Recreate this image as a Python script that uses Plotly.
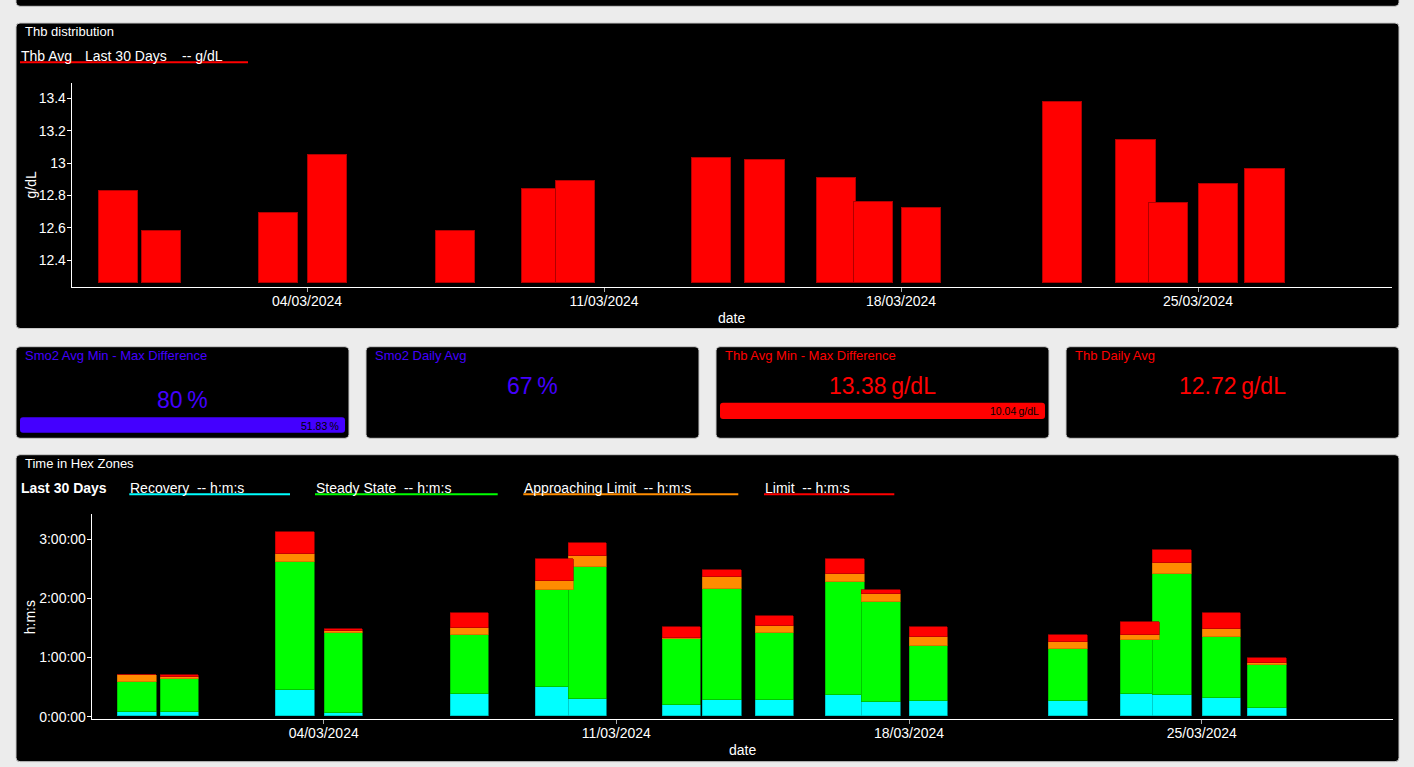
import plotly.graph_objects as go

W, H = 1414, 767
FONT = "Liberation Sans, Arial, Helvetica, sans-serif"

# ---------------- data ----------------
DATES = [
    "2024-02-28 13:06", "2024-02-29 13:18", "2024-03-03 07:28", "2024-03-04 11:33",
    "2024-03-07 11:51", "2024-03-09 12:39", "2024-03-10 07:34", "2024-03-12 13:35",
    "2024-03-13 12:48", "2024-03-14 18:52", "2024-03-16 11:12", "2024-03-17 08:07",
    "2024-03-18 11:17", "2024-03-21 19:12", "2024-03-23 12:43", "2024-03-24 07:03",
    "2024-03-25 11:27", "2024-03-26 13:39",
]
THB_AVG = [12.83, 12.58, 12.69, 13.05, 12.58, 12.84, 12.89, None, 13.03, 13.02,
           12.91, 12.76, 12.72, 13.38, 13.14, 12.75, 12.87, 12.96]

# time in zones, minutes
RECOVERY = [4.1, 4.5, 26.4, 3.0, 22.3, 30.1, 17.6, 11.2, 16.6, 16.6, 21.3, 14.5,
            15.2, 15.6, 22.3, 21.6, 18.6, 8.5]
STEADY = [30.8, 33.0, 130.2, 81.2, 60.6, 98.1, 133.9, 67.3, 112.6, 67.6, 115.0,
          101.2, 55.8, 52.7, 55.1, 122.8, 61.9, 43.6]
APPROACHING = [7.4, 2.1, 7.8, 2.7, 7.1, 9.1, 11.5, 1.3, 11.8, 7.1, 7.8, 8.4, 9.8,
               7.5, 4.8, 11.2, 8.1, 2.4]
LIMIT = [0.0, 2.0, 23.0, 2.0, 14.8, 22.7, 12.9, 10.8, 7.8, 10.8, 15.5, 4.4, 9.8,
         6.7, 13.8, 13.2, 16.6, 5.0]

ZONE_NAMES = ["Recovery", "Steady State", "Approaching Limit", "Limit"]
ZONE_COLORS = ["#00ffff", "#00ff00", "#ff8c00", "#ff0000"]
ZONE_LINES = ["#00b8b8", "#00b000", "#c86e00", "#b00000"]

THB_TICKS = [12.4, 12.6, 12.8, 13.0, 13.2, 13.4]
THB_TICKTEXT = ["12.4", "12.6", "12.8", "13", "13.2", "13.4"]
HMS_TICKVALS = [0, 60, 120, 180]
HMS_TICKTEXT = ["0:00:00", "1:00:00", "2:00:00", "3:00:00"]

CARDS = [
    ("Smo2 Avg Min - Max Difference", "80\u2009%", "51.83\u2009%", "#4400ff"),
    ("Smo2 Daily Avg", "67\u2009%", None, "#4400ff"),
    ("Thb Avg Min - Max Difference", "13.38\u2009g/dL", "10.04\u2009g/dL", "#ff0000"),
    ("Thb Daily Avg", "12.72\u2009g/dL", None, "#ff0000"),
]

X_RANGE = ["2024-02-27 10:51", "2024-03-29 13:36"]
THB_RANGE = [12.233, 13.495]
THB_BASE = 12.256
HMS_RANGE = [-2.64, 205.4]
BAR_WIDTH = 0.925 * 86400000


# ---------------- helpers ----------------
def X(px):
    return px / W


def Y(py):
    return 1 - py / H


def rrect(x0, y0, x1, y1, r, fill, line=None, lw=1):
    p = (f"M {X(x0 + r)},{Y(y0)} L {X(x1 - r)},{Y(y0)} Q {X(x1)},{Y(y0)} {X(x1)},{Y(y0 + r)} "
         f"L {X(x1)},{Y(y1 - r)} Q {X(x1)},{Y(y1)} {X(x1 - r)},{Y(y1)} "
         f"L {X(x0 + r)},{Y(y1)} Q {X(x0)},{Y(y1)} {X(x0)},{Y(y1 - r)} "
         f"L {X(x0)},{Y(y0 + r)} Q {X(x0)},{Y(y0)} {X(x0 + r)},{Y(y0)} Z")
    return dict(type="path", path=p, xref="paper", yref="paper", fillcolor=fill,
                line=dict(color=line or fill, width=lw if line else 0), layer="below")


def hline(x0, x1, y, color, w=2):
    return dict(type="line", xref="paper", yref="paper", x0=X(x0), x1=X(x1), y0=Y(y), y1=Y(y),
                line=dict(color=color, width=w))


annotations = []


def text(s, x, y, size=13, color="white", xanchor="left", angle=0, bold=False):
    if bold:
        s = f"<b>{s}</b>"
    annotations.append(dict(text=s, x=X(x), y=Y(y), xref="paper", yref="paper",
                            xanchor=xanchor, yanchor="middle", showarrow=False,
                            textangle=angle, font=dict(size=size, color=color, family=FONT)))


# ---------------- figure ----------------
fig = go.Figure()

thb_x = [d for d, v in zip(DATES, THB_AVG) if v is not None]
thb_y = [v - THB_BASE for v in THB_AVG if v is not None]
fig.add_trace(go.Bar(x=thb_x, y=thb_y, base=THB_BASE, width=BAR_WIDTH,
                     marker=dict(color="#ff0000", line=dict(color="#b00000", width=1)),
                     xaxis="x", yaxis="y", name="Thb Avg", showlegend=False))

for name, vals, col, lc in zip(ZONE_NAMES, [RECOVERY, STEADY, APPROACHING, LIMIT],
                               ZONE_COLORS, ZONE_LINES):
    fig.add_trace(go.Bar(x=DATES, y=vals, width=BAR_WIDTH, name=name,
                         marker=dict(color=col, line=dict(color=lc, width=0.7)),
                         xaxis="x2", yaxis="y2", showlegend=False))

axis_common = dict(showline=True, linecolor="white", linewidth=1, ticks="outside",
                   ticklen=4, showgrid=False, zeroline=False, automargin=False,
                   tickfont=dict(size=14, color="white", family=FONT))

xcommon = dict(axis_common, type="date", range=X_RANGE, tickformat="%d/%m/%Y",
               tick0="2024-03-04", dtick=7 * 86400000, tickcolor="#aaaaaa",
               ticklabelstandoff=-3)

fig.update_layout(
    width=W, height=H, margin=dict(l=0, r=0, t=0, b=0, autoexpand=False),
    paper_bgcolor="#ececec", plot_bgcolor="rgba(0,0,0,0)",
    barmode="stack", bargap=0,
    font=dict(family=FONT, color="white"),
    xaxis=dict(xcommon, domain=[X(71.7), X(1391.8)], anchor="y"),
    yaxis=dict(axis_common, domain=[Y(287), Y(83)], anchor="x", range=THB_RANGE,
               tickvals=THB_TICKS, ticktext=THB_TICKTEXT, tickcolor="white",
               ticklabelstandoff=-2),
    xaxis2=dict(xcommon, domain=[X(91.7), X(1392.7)], anchor="y2"),
    yaxis2=dict(axis_common, domain=[Y(719.3), Y(514.3)], anchor="x2", range=HMS_RANGE,
                tickvals=HMS_TICKVALS, ticktext=HMS_TICKTEXT, tickcolor="white",
                ticklabelstandoff=-2),
)

shapes = []
# panels
shapes.append(rrect(16, -10, 1399, 6.3, 4, "black", "#c8c8c8"))
shapes.append(rrect(16, 23, 1399, 328.5, 4, "black", "#c8c8c8"))
shapes.append(rrect(16, 454.7, 1399, 761.7, 4, "black", "#c8c8c8"))
card_x = [(16, 349), (366, 699), (716, 1049), (1066, 1399)]
for (cx0, cx1) in card_x:
    shapes.append(rrect(cx0, 346.7, cx1, 438.3, 4, "black", "#c8c8c8"))

# top panel texts
text("Thb distribution", 23, 31.5, 13)
text("Thb Avg", 19, 56, 14)
text("Last 30 Days", 83, 56, 14)
text("-- g/dL", 180, 56, 14)
shapes.append(hline(20, 248, 62.3, "#ff0000", 2))
text("g/dL", 30.5, 185, 14, angle=-90, xanchor="center")
text("date", 731.7, 318.3, 14, xanchor="center")

# cards
for (title, big, small, col), (cx0, cx1) in zip(CARDS, card_x):
    text(title, cx0 + 7, 355.7, 13, color=col)
    cxm = (cx0 + cx1) / 2
    if small is not None and col == "#4400ff":
        text(big, cxm, 399.5, 23, color=col, xanchor="center")
        shapes.append(rrect(cx0 + 4, 417.3, cx1 - 4, 432.7, 3, col))
        text(small, cx1 - 8, 425.5, 10.5, color="black", xanchor="right")
    elif small is not None:
        text(big, cxm, 385.5, 23, color=col, xanchor="center")
        shapes.append(rrect(cx0 + 4, 402.7, cx1 - 4, 419, 3, col))
        text(small, cx1 - 8, 411, 10.5, color="black", xanchor="right")
    else:
        text(big, cxm, 385.5, 23, color=col, xanchor="center")

# bottom panel texts
text("Time in Hex Zones", 23, 463.5, 13)
text("Last 30 Days", 19, 488, 14, bold=True)
legend_pos = [(129.3, 290), (315, 497.7), (523.3, 738.3), (764, 894.3)]
for name, col, (lx0, lx1) in zip(ZONE_NAMES, ZONE_COLORS, legend_pos):
    text(f"{name}\u00a0\u00a0-- h:m:s", lx0 - 1, 488, 14)
    shapes.append(hline(lx0, lx1, 494.3, col, 2))
text("h:m:s", 29.5, 616.8, 14, angle=-90, xanchor="center")
text("date", 742, 750, 14, xanchor="center")

fig.update_layout(shapes=shapes, annotations=annotations)

fig.write_html(
    "out.html", config={"displayModeBar": False},
    post_script=("document.body.style.margin='0';"
                 "document.body.style.background='#ececec';"
                 "document.body.style.overflow='hidden';"),
)
